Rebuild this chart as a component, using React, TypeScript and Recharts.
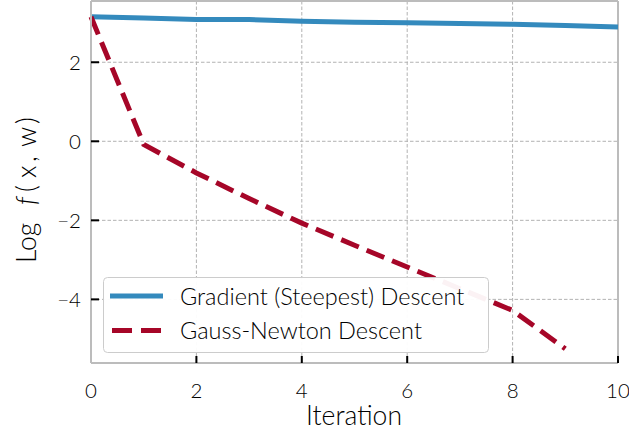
import React from 'react';
import { LineChart, Line, XAxis, YAxis, CartesianGrid, ReferenceLine, Legend } from 'recharts';

const iterations = [0, 1, 2, 3, 4, 5, 6, 7, 8, 9, 10];
const gradientDescent = [3.15, 3.12, 3.08, 3.08, 3.04, 3.01, 3.0, 2.98, 2.96, 2.93, 2.89];
const gaussNewton = [3.15, -0.08, -0.8, -1.45, -2.07, -2.63, -3.18, -3.73, -4.28, -5.25, null];
const xTicks = [0, 2, 4, 6, 8, 10];
const yTicks = [-4, -2, 0, 2];
const seriesNames = ['Gradient (Steepest) Descent', 'Gauss-Newton Descent'];
const xTitle = 'Iteration';

const data = iterations.map((it, i) => ({ it, gd: gradientDescent[i], gn: gaussNewton[i] }));

const FONT = 'Lato, "DejaVu Sans", sans-serif';
const WEIGHT = 300;
const BLUE = '#348ABD';
const RED = '#A60628';
const FRAME = '#bcbcbc';
const TEXT = '#000000';

const fmt = (v: number) => (v < 0 ? '\u2212' + Math.abs(v) : String(v));

const renderLegend = () => (
  <svg width={386} height={76} style={{ display: 'block' }}>
    <rect x={0.5} y={0.5} width={385} height={75} rx={4} ry={4} fill="rgba(255,255,255,0.95)" stroke="#cccccc" strokeWidth={1} />
    <line x1={7} x2={60} y1={19} y2={19} stroke={BLUE} strokeWidth={5} />
    <text x={77} y={19.5} dy="0.36em" fontFamily={FONT} fontWeight={WEIGHT} fontSize={23.5} fill={TEXT}>{seriesNames[0]}</text>
    <line x1={9} x2={58} y1={53.5} y2={53.5} stroke={RED} strokeWidth={5} strokeDasharray="20 9" />
    <text x={77} y={54} dy="0.36em" fontFamily={FONT} fontWeight={WEIGHT} fontSize={23.5} fill={TEXT}>{seriesNames[1]}</text>
  </svg>
);

const YTitle = () => (
  <text transform="translate(35.5, 0) rotate(-90)" fontFamily={FONT} fontWeight={WEIGHT} fontSize={26.5} fill={TEXT}>
    <tspan x={-263} y={0}>Log</tspan>
    <tspan x={-205} y={0} fontStyle="italic">f</tspan>
    <tspan x={-192} y={0}>(</tspan>
    <tspan x={-178} y={0}>x</tspan>
    <tspan x={-162} y={0}>,</tspan>
    <tspan x={-147} y={0}>w</tspan>
    <tspan x={-124} y={0}>)</tspan>
  </text>
);

export default function App() {
  return (
    <div style={{ position: 'absolute', left: 0, top: 0, width: 629, height: 432, background: '#fff' }}>
      <LineChart width={629} height={432} data={data} margin={{ top: 1, right: 11, left: 0, bottom: 0 }}>
        <CartesianGrid stroke="#b2b2b2" strokeDasharray="3.5 2" strokeWidth={1} />
        <XAxis
          dataKey="it"
          type="number"
          domain={[0, 10]}
          ticks={xTicks}
          height={69}
          stroke={FRAME}
          axisLine={{ stroke: FRAME, strokeWidth: 2 }}
          tickLine={{ stroke: '#000', strokeWidth: 2 }}
          tickSize={-7}
          tickMargin={27}
          tick={{ fill: TEXT, fontSize: 20.5, fontFamily: FONT, fontWeight: WEIGHT }}
          label={{
            content: () => (
              <text x={354} y={425} textAnchor="middle" fontFamily={FONT} fontWeight={WEIGHT} fontSize={26.5} fill={TEXT}>{xTitle}</text>
            ),
          }}
        />
        <YAxis
          type="number"
          domain={[-5.61, 3.55]}
          ticks={yTicks}
          width={91}
          tickFormatter={fmt}
          axisLine={{ stroke: FRAME, strokeWidth: 2 }}
          tickLine={{ stroke: '#000', strokeWidth: 2 }}
          tickSize={-8}
          tickMargin={18}
          tick={{ fill: TEXT, fontSize: 20.5, fontFamily: FONT, fontWeight: WEIGHT }}
          label={{ content: () => <YTitle /> }}
        />
        <ReferenceLine y={3.55} stroke={FRAME} strokeWidth={2} />
        <ReferenceLine x={10} stroke={FRAME} strokeWidth={2} />
        <Line
          type="linear"
          dataKey="gd"
          name={seriesNames[0]}
          stroke={BLUE}
          strokeWidth={5}
          dot={false}
          activeDot={false}
          isAnimationActive={false}
        />
        <Line
          type="linear"
          dataKey="gn"
          name={seriesNames[1]}
          stroke={RED}
          strokeWidth={5}
          strokeDasharray="19 8.5"
          dot={false}
          activeDot={false}
          connectNulls={false}
          isAnimationActive={false}
        />
        <Legend
          verticalAlign="middle"
          layout="horizontal"
          content={renderLegend}
          wrapperStyle={{ position: 'absolute', left: 103, top: 277, width: 386, height: 76, margin: 0, padding: 0 }}
        />
      </LineChart>
    </div>
  );
}
